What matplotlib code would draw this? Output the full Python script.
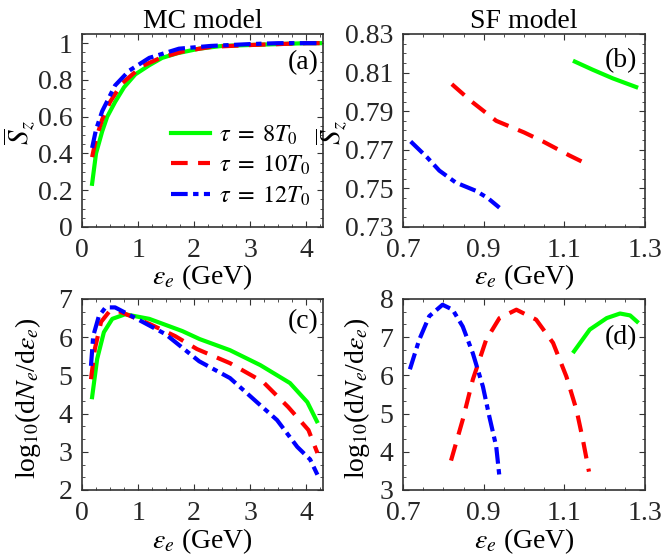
import matplotlib
matplotlib.use("Agg")
import matplotlib.pyplot as plt
from matplotlib.ticker import MultipleLocator

plt.rcParams["font.family"] = ["Liberation Serif", "DejaVu Serif"]
plt.rcParams["mathtext.fontset"] = "stix"
FS = 20

# (a) MC model, mean spin vs energy
a_x_g = [0.18, 0.25, 0.36, 0.45, 0.59, 0.75, 0.95, 1.2, 1.43, 1.7, 2.09, 2.5, 3.0, 3.5, 4.0, 4.25]
a_y_g = [0.235, 0.40, 0.52, 0.60, 0.68, 0.76, 0.83, 0.88, 0.92, 0.945, 0.97, 0.985, 0.99, 0.995, 1.0, 1.0]
a_x_r = [0.18, 0.25, 0.36, 0.5, 0.71, 1.07, 1.4, 1.8, 2.3, 3.0, 3.5, 4.0, 4.25]
a_y_r = [0.38, 0.48, 0.585, 0.68, 0.78, 0.875, 0.92, 0.955, 0.98, 0.99, 0.995, 1.0, 1.0]
a_x_b = [0.18, 0.25, 0.36, 0.59, 0.84, 1.2, 1.73, 2.3, 3.0, 3.5, 4.0, 4.25]
a_y_b = [0.43, 0.53, 0.63, 0.77, 0.85, 0.92, 0.97, 0.985, 0.995, 1.0, 1.0, 1.0]

# (b) SF model, mean spin vs energy
b_x_g = [1.126, 1.17, 1.22, 1.278]
b_y_g = [0.8157, 0.8115, 0.807, 0.8025]
b_x_r = [0.821, 0.87, 0.931, 1.0, 1.047, 1.113, 1.155]
b_y_r = [0.804, 0.795, 0.785, 0.779, 0.7743, 0.767, 0.7627]
b_x_b = [0.719, 0.76, 0.79, 0.831, 0.881, 0.91, 0.939]
b_y_b = [0.7743, 0.766, 0.7592, 0.753, 0.7487, 0.745, 0.740]

# (c) MC model spectra
c_x_g = [0.18, 0.27, 0.39, 0.54, 0.77, 1.2, 1.79, 2.1, 2.64, 3.18, 3.71, 4.02, 4.19]
c_y_g = [4.43, 5.43, 6.13, 6.48, 6.6, 6.48, 6.16, 5.95, 5.66, 5.27, 4.8, 4.3, 3.8]
c_x_r = [0.16, 0.23, 0.34, 0.48, 0.64, 1.2, 1.66, 2.05, 2.64, 3.23, 3.68, 4.04, 4.2]
c_y_r = [4.9, 5.7, 6.4, 6.66, 6.69, 6.35, 6.03, 5.69, 5.32, 4.83, 4.17, 3.57, 2.97]
c_x_b = [0.16, 0.2, 0.3, 0.42, 0.59, 0.89, 1.49, 2.09, 2.64, 3.12, 3.48, 3.84, 4.07, 4.2]
c_y_b = [5.25, 6.03, 6.55, 6.78, 6.78, 6.55, 6.08, 5.37, 4.93, 4.3, 3.83, 3.13, 2.8, 2.4]

# (d) SF model spectra
d_x_g = [1.124, 1.163, 1.205, 1.238, 1.263, 1.280]
d_y_g = [6.63, 7.20, 7.50, 7.62, 7.57, 7.41]
d_x_r = [0.819, 0.848, 0.873, 0.906, 0.939, 0.981, 1.03, 1.072, 1.105, 1.13, 1.146, 1.161]
d_y_r = [3.77, 4.84, 5.89, 6.93, 7.50, 7.72, 7.46, 6.85, 5.97, 5.10, 4.31, 3.48]
d_x_b = [0.717, 0.740, 0.765, 0.798, 0.823, 0.848, 0.873, 0.898, 0.914, 0.931, 0.939]
d_y_b = [6.16, 6.93, 7.55, 7.85, 7.72, 7.28, 6.58, 5.71, 4.92, 4.14, 3.35]

labels = [r"$\tau\;=\;8T_0$", r"$\tau\;=\;10T_0$", r"$\tau\;=\;12T_0$"]
colors = ["#00ff00", "#ff0000", "#0000ff"]
styles = ["-", (0, (4, 2.5)), (0, (4, 1.3, 1.3, 1.3))]

edge = "#333333"
xlab = r"$\varepsilon_e$ (GeV)"
spec_lab = r"log$_{10}$(d$N_e$/d$\varepsilon_e$)"
sz_lab = r"$\overline{S}_z$"

fig = plt.figure(figsize=(6.63, 5.57), dpi=100)
ax_a = fig.add_axes([0.1237, 0.5925, 0.3635, 0.3465])
ax_b = fig.add_axes([0.6079, 0.5925, 0.3650, 0.3465])
ax_c = fig.add_axes([0.1237, 0.1203, 0.3635, 0.3429])
ax_d = fig.add_axes([0.6079, 0.1203, 0.3650, 0.3429])

panels = [
    (ax_a, [(a_x_g, a_y_g), (a_x_r, a_y_r), (a_x_b, a_y_b)]),
    (ax_b, [(b_x_g, b_y_g), (b_x_r, b_y_r), (b_x_b, b_y_b)]),
    (ax_c, [(c_x_g, c_y_g), (c_x_r, c_y_r), (c_x_b, c_y_b)]),
    (ax_d, [(d_x_g, d_y_g), (d_x_r, d_y_r), (d_x_b, d_y_b)]),
]

for ax, series in panels:
    for (xs, ys), c, ls, lab in zip(series, colors, styles, labels):
        ax.plot(xs, ys, color=c, linestyle=ls, linewidth=3, label=lab)
    for sp in ax.spines.values():
        sp.set_color(edge)
        sp.set_linewidth(1.2)
    ax.tick_params(which="both", direction="in", top=True, right=True,
                   colors=edge, labelcolor="#262626", labelsize=FS)
    ax.tick_params(axis="x", pad=8)
    ax.tick_params(axis="y", pad=7)
    ax.tick_params(which="major", length=4)
    ax.tick_params(which="minor", length=2.5)

# (a)
ax_a.set_xlim(0, 4.3)
ax_a.set_ylim(0, 1.05)
ax_a.xaxis.set_major_locator(MultipleLocator(1))
ax_a.xaxis.set_minor_locator(MultipleLocator(0.25))
ax_a.set_yticks([0, 0.2, 0.4, 0.6, 0.8, 1.0])
ax_a.set_yticklabels(["0", "0.2", "0.4", "0.6", "0.8", "1"])
ax_a.yaxis.set_minor_locator(MultipleLocator(0.05))
ax_a.set_title("MC model", fontsize=FS, pad=2)
ax_a.set_xlabel(xlab, fontsize=FS)
ax_a.set_ylabel(sz_lab, fontsize=21)
ax_a.xaxis.set_label_coords(0.5, -0.185)
ax_a.yaxis.set_label_coords(-0.187, 0.49)
ax_a.text(0.98, 0.85, "(a)", transform=ax_a.transAxes, ha="right", va="center", fontsize=FS)
ax_a.legend(loc="center left", bbox_to_anchor=(0.37, 0.318), frameon=False, fontsize=17.5,
            handlelength=1.6, handletextpad=0.35, labelspacing=0.3, borderpad=0,
            borderaxespad=0)

# (b)
ax_b.set_xlim(0.7, 1.3)
ax_b.set_ylim(0.73, 0.83)
ax_b.set_xticks([0.7, 0.9, 1.1, 1.3])
ax_b.set_xticklabels(["0.7", "0.9", "1.1", "1.3"])
ax_b.xaxis.set_minor_locator(MultipleLocator(0.05))
ax_b.set_yticks([0.73, 0.75, 0.77, 0.79, 0.81, 0.83])
ax_b.set_yticklabels(["0.73", "0.75", "0.77", "0.79", "0.81", "0.83"])
ax_b.yaxis.set_minor_locator(MultipleLocator(0.005))
ax_b.set_title("SF model", fontsize=FS, pad=2)
ax_b.set_xlabel(xlab, fontsize=FS)
ax_b.set_ylabel(sz_lab, fontsize=21)
ax_b.xaxis.set_label_coords(0.5, -0.185)
ax_b.yaxis.set_label_coords(-0.224, 0.487)
ax_b.text(0.967, 0.86, "(b)", transform=ax_b.transAxes, ha="right", va="center", fontsize=FS)

# (c)
ax_c.set_xlim(0, 4.3)
ax_c.set_ylim(2, 7)
ax_c.xaxis.set_major_locator(MultipleLocator(1))
ax_c.xaxis.set_minor_locator(MultipleLocator(0.25))
ax_c.yaxis.set_major_locator(MultipleLocator(1))
ax_c.yaxis.set_minor_locator(MultipleLocator(1 / 3))
ax_c.set_xlabel(xlab, fontsize=FS)
ax_c.set_ylabel(spec_lab, fontsize=FS)
ax_c.xaxis.set_label_coords(0.5, -0.19)
ax_c.yaxis.set_label_coords(-0.162, 0.48)
ax_c.text(0.98, 0.88, "(c)", transform=ax_c.transAxes, ha="right", va="center", fontsize=FS)

# (d)
ax_d.set_xlim(0.7, 1.3)
ax_d.set_ylim(3, 8)
ax_d.set_xticks([0.7, 0.9, 1.1, 1.3])
ax_d.set_xticklabels(["0.7", "0.9", "1.1", "1.3"])
ax_d.xaxis.set_minor_locator(MultipleLocator(0.05))
ax_d.yaxis.set_major_locator(MultipleLocator(1))
ax_d.yaxis.set_minor_locator(MultipleLocator(1 / 3))
ax_d.set_xlabel(xlab, fontsize=FS)
ax_d.set_ylabel(spec_lab, fontsize=FS)
ax_d.xaxis.set_label_coords(0.5, -0.19)
ax_d.yaxis.set_label_coords(-0.129, 0.48)
ax_d.text(0.967, 0.80, "(d)", transform=ax_d.transAxes, ha="right", va="center", fontsize=FS)

fig.savefig("out.png", dpi=100)
